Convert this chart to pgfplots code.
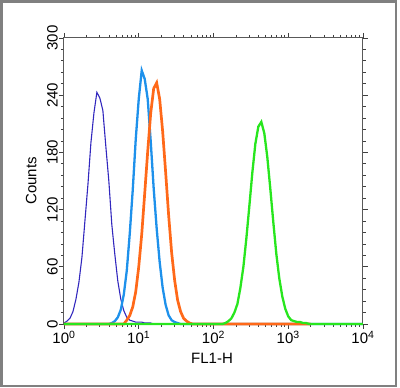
\documentclass[border=0pt]{standalone}
\usepackage{fontspec}
\setmainfont{Liberation Sans}
\usepackage{pgfplots}
\pgfplotsset{compat=1.18}
\definecolor{dblue}{RGB}{50,40,190}
\definecolor{lblue}{RGB}{30,145,235}
\definecolor{orng}{RGB}{255,105,25}
\definecolor{grn}{RGB}{40,230,30}
\definecolor{frame}{RGB}{128,128,128}
\begin{document}
\begin{tikzpicture}
\useasboundingbox (-64pt,-64pt) rectangle (336pt,324pt);
\draw[frame, line width=2.5pt] (-62.5pt,-62pt) rectangle (332pt,322.5pt);
\begin{axis}[
  at={(0pt,0pt)}, anchor=south west,
  scale only axis, width=299pt, height=286pt,
  xmode=log, xmin=1, xmax=10000, ymin=0, ymax=300,
  clip=false,
  font=\fontsize{15}{17}\selectfont,
  xtick={1,10,100,1000,10000},
  xticklabels={10\textsuperscript{0},10\textsuperscript{1},10\textsuperscript{2},10\textsuperscript{3},10\textsuperscript{4}},
  ytick={0,60,120,180,240,300},
  yticklabels={0,60,120,180,240,300},
  minor y tick num=4,
  tick align=outside,
  major tick length=5pt, minor tick length=3pt,
  tick style={black!75, line width=0.8pt},
  axis line style={black!65, line width=1pt},
  yticklabel style={rotate=90, anchor=south, inner sep=1pt},
  xticklabel style={inner sep=2pt},
  xlabel={FL1-H}, ylabel={Counts},
  xlabel style={at={(axis description cs:0.495,-0.12)}, anchor=center},
  ylabel style={at={(axis description cs:-0.11,0.5)}, anchor=center},
]
% dark blue
\addplot[dblue, line width=1.1pt] coordinates {
(1.000,1) (1.096,3) (1.202,6) (1.318,13) (1.445,26) (1.585,44) (1.738,70) (1.905,108)
(2.089,146) (2.291,190) (2.512,221) (2.754,243) (3.020,237) (3.311,224) (3.631,186)
(3.981,150) (4.365,104) (4.786,73) (5.248,45) (5.754,26) (6.310,14) (6.918,7) (7.586,4)
(8.318,3) (9.120,2) (10.00,2) (10.96,2) (12.02,1) (13.18,1) (14.45,1) (15.85,0) (10000,0)
};
% light blue
\addplot[lblue, line width=2.3pt] coordinates {
(1,0) (3.981,0) (4.365,1) (4.786,3) (5.248,7) (5.754,15) (6.310,31) (6.918,56) (7.586,95)
(8.318,141) (9.120,194) (10.00,236) (10.96,266) (12.02,257) (13.18,236) (14.45,192)
(15.85,142) (17.38,100) (19.05,65) (20.89,38) (22.91,20) (25.12,9) (27.54,4) (30.20,2)
(33.11,1) (36.31,0) (10000,0)
};
% orange
\addplot[orng, line width=2.7pt] coordinates {
(1,0) (6.310,0) (6.918,4) (7.586,9) (8.318,18) (9.120,34) (10.00,60) (10.96,94) (12.02,137)
(13.18,181) (14.45,221) (15.85,247) (17.38,253) (19.05,236) (20.89,202) (22.91,159)
(25.12,114) (27.54,75) (30.20,46) (33.11,25) (36.31,13) (39.81,6) (43.65,3) (47.86,1)
(52.48,0) (2000,0)
};
% green
\addplot[grn, line width=2.3pt] coordinates {
(1,0) (131.8,0) (144.5,1) (158.5,3) (173.8,6) (190.5,12) (208.9,21) (229.1,38) (251.2,60)
(275.4,90) (302.0,124) (331.1,159) (363.1,189) (398.1,207) (436.5,212) (478.6,200)
(524.8,175) (575.4,142) (631.0,107) (691.8,74) (758.6,48) (831.8,29) (912.0,16)
(1000,8) (1096,4) (1202,3) (1318,2) (1445,2) (1585,1) (1738,1) (1905,0) (10000,0)
};
\end{axis}
\end{tikzpicture}
\end{document}
